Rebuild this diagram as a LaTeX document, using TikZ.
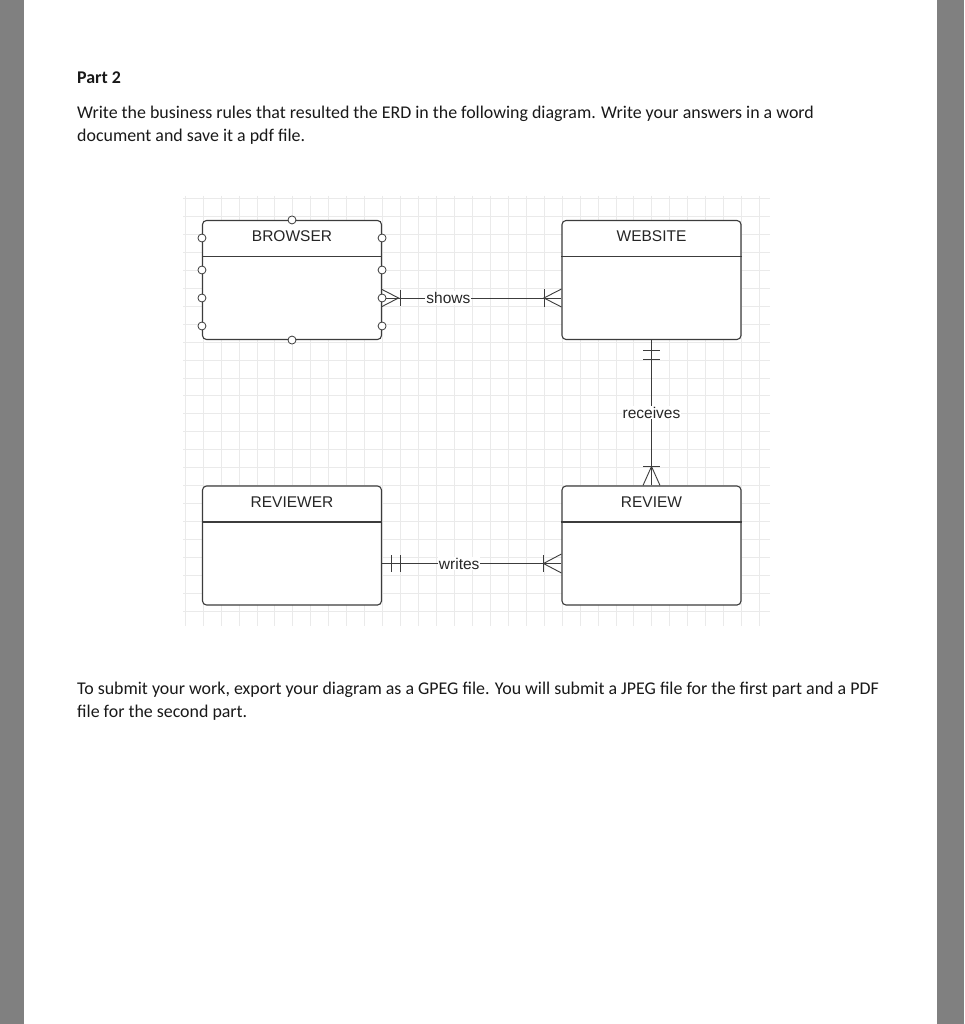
\documentclass[tikz,border=0pt]{standalone}
\usepackage{fontspec}
\setmainfont{Carlito}
\newfontfamily\erfont{Liberation Sans}
\usepackage{tikz}
\usetikzlibrary{calc}
\definecolor{sidegray}{RGB}{128,128,128}
\definecolor{gridgray}{RGB}{234,234,234}
\definecolor{inkgray}{RGB}{60,60,60}

\begin{document}
\begin{tikzpicture}[x=1pt, y=-1pt,
    doc/.style={anchor=base west, inner sep=0pt, text=black!90, font=\fontsize{17.9}{21}\selectfont},
    entity/.style={draw=inkgray, line width=1.1pt, rounded corners=4pt, fill=white,
        minimum width=179pt, minimum height=119pt, inner sep=0pt},
    title/.style={inner sep=0pt, text=black!85, font=\erfont\fontsize{15.5}{18}\selectfont},
    rel/.style={draw=inkgray, line width=0.9pt},
    rellabel/.style={fill=white, inner sep=1pt, text=black!85, font=\erfont\fontsize{15.5}{18}\selectfont},
    port/.style={draw=inkgray, line width=0.8pt, fill=white}]
    \useasboundingbox (0,0) rectangle (964,1024);
    \fill[sidegray] (0,0) rectangle (964,1024);
    \fill[white] (24,0) rectangle (937,1024);

    \node[doc, font=\bfseries\fontsize{17.9}{21}\selectfont] (part) at (77,84) {Part 2};
    \node[doc] (task1) at (77,119) {Write the business rules that resulted the ERD in the following diagram. Write your answers in a word};
    \node[doc] (task2) at (77,142) {document and save it a pdf file.};

    \foreach \gx in {0,...,32}
        \draw[gridgray, line width=0.6pt] (185+\gx*17.95,196) -- (185+\gx*17.95,626);
    \foreach \gy in {0,...,23}
        \draw[gridgray, line width=0.6pt] (183,198+\gy*17.98) -- (770,198+\gy*17.98);

    \node[entity] (browser) at (292,280) {};
    \node[entity] (website) at (651.5,280) {};
    \node[entity] (reviewer) at (292,545.5) {};
    \node[entity] (review) at (651.5,545.5) {};
    \foreach \ent/\name in {browser/BROWSER, website/WEBSITE, reviewer/REVIEWER, review/REVIEW} {
        \draw[inkgray, line width=1.1pt] ($(\ent.north west)+(0,36.5)$) -- ($(\ent.north east)+(0,36.5)$);
        \node[title] (\ent title) at ($(\ent.north)+(0,16.5)$) {\name};
    }

    \draw[rel] ($(browser.east)+(0,18)$) -- node[rellabel, pos=0.37] (shows) {shows} ($(website.west)+(0,18)$);
    \draw[rel] ($(browser.east)+(0,9.5)$) -- ($(browser.east)+(16.5,18)$) -- ($(browser.east)+(0,26.5)$);
    \draw[rel] ($(browser.east)+(18.5,10)$) -- ($(browser.east)+(18.5,26)$);
    \draw[rel] ($(website.west)+(0,9)$) -- ($(website.west)+(-17.5,18)$) -- ($(website.west)+(0,27)$);
    \draw[rel] ($(website.west)+(-17.5,9)$) -- ($(website.west)+(-17.5,27)$);

    \draw[rel] (website.south) -- node[rellabel] (receives) {receives} (review.north);
    \draw[rel] ($(website.south)+(-8.5,10)$) -- ($(website.south)+(8.5,10)$);
    \draw[rel] ($(website.south)+(-8.5,19)$) -- ($(website.south)+(8.5,19)$);
    \draw[rel] ($(review.north)+(-8.5,0)$) -- ($(review.north)+(0,-19)$) -- ($(review.north)+(8.5,0)$);
    \draw[rel] ($(review.north)+(-8.5,-19)$) -- ($(review.north)+(8.5,-19)$);

    \draw[rel] ($(reviewer.east)+(0,18)$) -- node[rellabel, pos=0.43] (writes) {writes} ($(review.west)+(0,18)$);
    \draw[rel] ($(reviewer.east)+(9,9.5)$) -- ($(reviewer.east)+(9,26.5)$);
    \draw[rel] ($(reviewer.east)+(18.5,9.5)$) -- ($(reviewer.east)+(18.5,26.5)$);
    \draw[rel] ($(review.west)+(0,8.5)$) -- ($(review.west)+(-18,18)$) -- ($(review.west)+(0,27.5)$);
    \draw[rel] ($(review.west)+(-18,9.5)$) -- ($(review.west)+(-18,26.5)$);

    \draw[port] (browser.north) circle (4);
    \draw[port] (browser.south) circle (4);
    \foreach \dy in {-42,-10,18,46} {
        \draw[port] ($(browser.west)+(0,\dy)$) circle (4);
        \draw[port] ($(browser.east)+(0,\dy)$) circle (4);
    }

    \node[doc] (submit1) at (77,694) {To submit your work, export your diagram as a GPEG file. You will submit a JPEG file for the first part and a PDF};
    \node[doc] (submit2) at (77,717) {file for the second part.};
\end{tikzpicture}
\end{document}
